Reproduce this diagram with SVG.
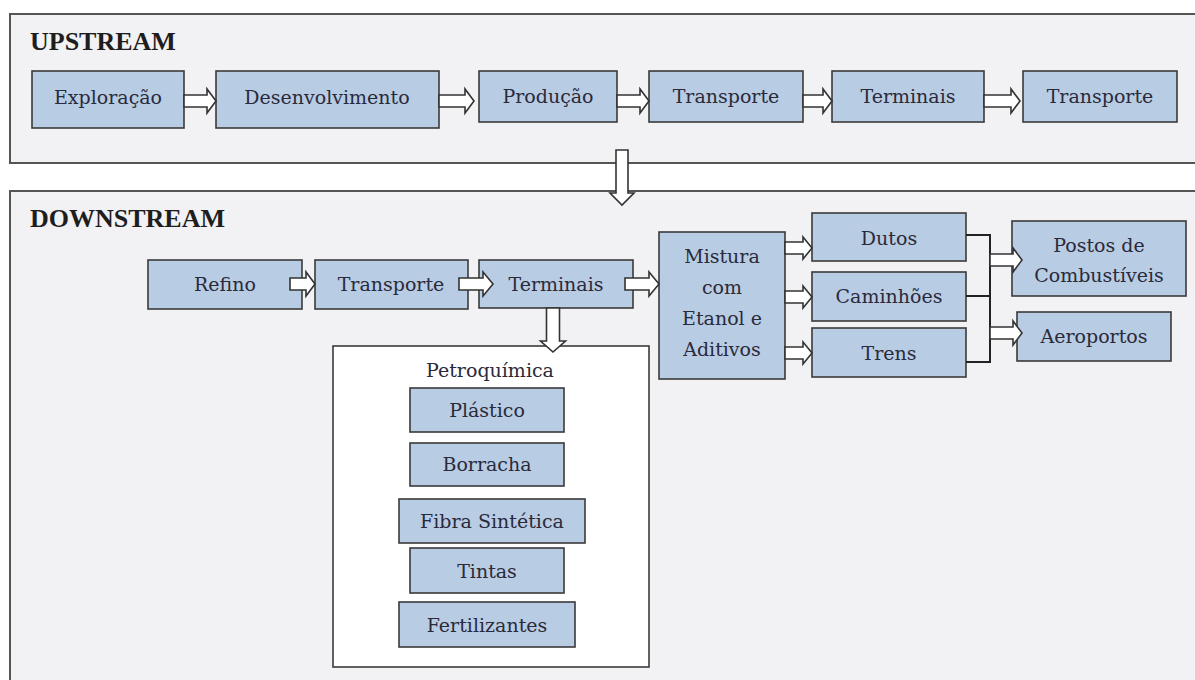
<svg xmlns="http://www.w3.org/2000/svg" width="1195" height="680" viewBox="0 0 1195 680">
<style>
.panel{fill:#f2f2f4;stroke:#555;stroke-width:2}
.box{fill:#b8cce4;stroke:#3a3a3a;stroke-width:1.6}
.wbox{fill:#ffffff;stroke:#3a3a3a;stroke-width:1.6}
.t{font-family:"DejaVu Serif","Liberation Serif",serif;font-size:19px;fill:#2a2a3a;text-anchor:middle}
.h{font-family:"Liberation Serif",serif;font-weight:bold;font-size:26px;fill:#1e1e1e}
.arr{fill:#ffffff;stroke:#333;stroke-width:1.6;stroke-linejoin:miter}
.ln{fill:none;stroke:#222;stroke-width:2}
</style>
<rect width="1195" height="680" fill="#ffffff"/>
<g id="upstream-panel">
<rect class="panel" x="10" y="14" width="1187" height="149"/>
<text class="h" x="30" y="50">UPSTREAM</text>
</g>
<g id="downstream-panel">
<rect class="panel" x="10" y="191" width="1187" height="500"/>
<text class="h" x="30" y="227">DOWNSTREAM</text>
</g>
<g id="u-exploracao"><rect class="box" x="32" y="71" width="152" height="57"/><text class="t" x="108" y="104">Exploração</text></g>
<g id="u-desenvolvimento"><rect class="box" x="216" y="71" width="223" height="57"/><text class="t" x="327" y="104">Desenvolvimento</text></g>
<g id="u-producao"><rect class="box" x="479" y="71" width="138" height="51"/><text class="t" x="548" y="103">Produção</text></g>
<g id="u-transporte1"><rect class="box" x="649" y="71" width="154" height="51"/><text class="t" x="726" y="103">Transporte</text></g>
<g id="u-terminais"><rect class="box" x="832" y="71" width="152" height="51"/><text class="t" x="908" y="103">Terminais</text></g>
<g id="u-transporte2"><rect class="box" x="1023" y="71" width="154" height="51"/><text class="t" x="1100" y="103">Transporte</text></g>

<g id="d-refino"><rect class="box" x="148" y="260" width="154" height="49"/><text class="t" x="225" y="291">Refino</text></g>
<g id="d-transporte"><rect class="box" x="315" y="260" width="153" height="49"/><text class="t" x="391" y="291">Transporte</text></g>
<g id="d-terminais"><rect class="box" x="479" y="260" width="154" height="48"/><text class="t" x="556" y="291">Terminais</text></g>
<g id="d-mistura"><rect class="box" x="659" y="232" width="126" height="147"/>
<text class="t" x="722" y="263">Mistura</text><text class="t" x="722" y="294">com</text><text class="t" x="722" y="325">Etanol e</text><text class="t" x="722" y="356">Aditivos</text></g>
<g id="d-dutos"><rect class="box" x="812" y="213" width="154" height="48"/><text class="t" x="889" y="245">Dutos</text></g>
<g id="d-caminhoes"><rect class="box" x="812" y="272" width="154" height="49"/><text class="t" x="889" y="303">Caminhões</text></g>
<g id="d-trens"><rect class="box" x="812" y="328" width="154" height="49"/><text class="t" x="889" y="360">Trens</text></g>
<g id="d-postos"><rect class="box" x="1012" y="221" width="174" height="75"/><text class="t" x="1099" y="252">Postos de</text><text class="t" x="1099" y="282">Combustíveis</text></g>
<g id="d-aeroportos"><rect class="box" x="1017" y="312" width="154" height="49"/><text class="t" x="1094" y="343">Aeroportos</text></g>

<g id="petroquimica">
<rect class="wbox" x="333" y="346" width="316" height="321"/>
<text class="t" x="490" y="377">Petroquímica</text>
<g id="p-plastico"><rect class="box" x="410" y="388" width="154" height="44"/><text class="t" x="487" y="417">Plástico</text></g>
<g id="p-borracha"><rect class="box" x="410" y="443" width="154" height="43"/><text class="t" x="487" y="471">Borracha</text></g>
<g id="p-fibra"><rect class="box" x="399" y="499" width="186" height="44"/><text class="t" x="492" y="528">Fibra Sintética</text></g>
<g id="p-tintas"><rect class="box" x="410" y="548" width="154" height="45"/><text class="t" x="487" y="578">Tintas</text></g>
<g id="p-fertilizantes"><rect class="box" x="399" y="602" width="176" height="45"/><text class="t" x="487" y="632">Fertilizantes</text></g>
</g>

<g id="connectors">
<polygon class="arr" points="184,95 207,95 207,89 216,101 207,113 207,107 184,107"/>
<polygon class="arr" points="439,95 465,95 465,89 474,101 465,113 465,107 439,107"/>
<polygon class="arr" points="617,95 640,95 640,89 649,101 640,113 640,107 617,107"/>
<polygon class="arr" points="803,95 823,95 823,89 832,101 823,113 823,107 803,107"/>
<polygon class="arr" points="984,95 1011,95 1011,89 1020,101 1011,113 1011,107 984,107"/>
<polygon class="arr" points="616,150 628,150 628,193 634,193 622,205 610,193 616,193"/>
<polygon class="arr" points="290,278 306,278 306,272 315,284 306,296 306,290 290,290"/>
<polygon class="arr" points="459,278 483,278 483,272 493,284 483,296 483,290 459,290"/>
<polygon class="arr" points="625,278 649,278 649,272 659,284 649,296 649,290 625,290"/>
<polygon class="arr" points="546.5,308 559.5,308 559.5,341 565.5,341 553,352 540.5,341 546.5,341"/>
<polygon class="arr" points="785,242 803,242 803,237 812,248 803,259 803,254 785,254"/>
<polygon class="arr" points="785,291 803,291 803,286 812,297 803,308 803,303 785,303"/>
<polygon class="arr" points="785,347 803,347 803,342 812,353 803,364 803,359 785,359"/>
<path class="ln" d="M966,235 H990 V362 H966 M966,296 H990"/>
<polygon class="arr" points="990,254 1013,254 1013,248 1022,260 1013,272 1013,266 990,266"/>
<polygon class="arr" points="990,327 1013,327 1013,321 1022,333 1013,345 1013,339 990,339"/>
</g>
</svg>
